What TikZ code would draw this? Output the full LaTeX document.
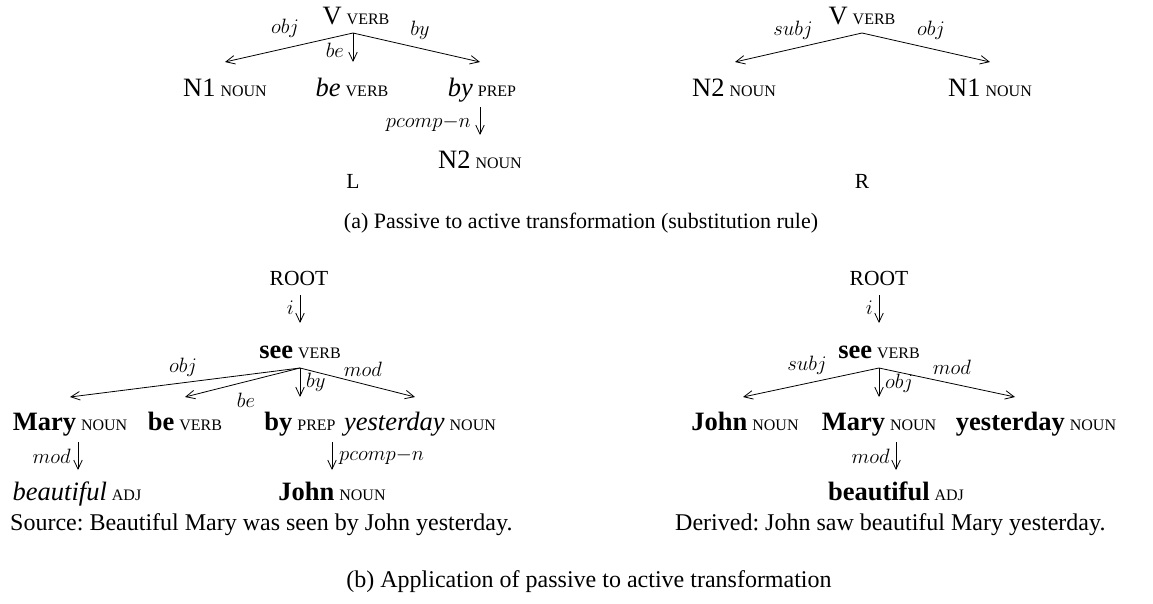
\documentclass[tikz,border=0pt]{standalone}
\usepackage{fontspec}
\setmainfont{Liberation Serif}
\usetikzlibrary{arrows.meta}
\frenchspacing
\newcommand\wfont{\fontsize{26.5}{30}\selectfont}
\newcommand\tfont{\fontsize{16}{18}\selectfont}
\newcommand\lfont{\fontsize{22.5}{24}\selectfont}
\newcommand\cfont{\fontsize{24}{28}\selectfont}
\newcommand\cafont{\fontsize{22}{26}\selectfont}
\newcommand\sfont{\fontsize{21.5}{24}\selectfont}
\newcommand\wt[2]{{\wfont #1}\hspace{5pt}{\tfont #2}}
\begin{document}
\begin{tikzpicture}[x=1pt,y=-1pt,
  word/.style={inner sep=0pt,anchor=base},
  lab/.style={inner sep=0pt,font=\lfont},
  dep/.style={line width=0.8pt,-{Straight Barb[length=9pt,width=8.5pt,line width=0.8pt]}},
  captxt/.style={inner sep=0pt,anchor=base,font=\cfont}]
\useasboundingbox (0,0) rectangle (1153,603);
% ---------- (a) left: L ----------
\node[word] (vA) at (356,24) {\wt{V}{VERB}};
\coordinate (jA) at (353,33);
\node[word] (n1A) at (225,96) {\wt{N1}{NOUN}};
\node[word] (beA) at (352,96) {\wt{\textit{be}}{VERB}};
\node[word] (byA) at (482,96) {\wt{\textit{by}}{PREP}};
\node[word] (n2A) at (480,168) {\wt{N2}{NOUN}};
\coordinate (n1At) at (225,62);
\coordinate (beAt) at (353,62);
\coordinate (byAt) at (480,62);
\coordinate (byAb) at (480,107);
\coordinate (n2At) at (480,135);
\draw[dep] (jA) -- (n1At);
\draw[dep] (jA) -- (beAt);
\draw[dep] (jA) -- (byAt);
\draw[dep] (byAb) -- (n2At);
\node[lab] (lobjA) at (285,28) {$obj$};
\node[lab] (lbyA) at (420,30) {$by$};
\node[lab,anchor=east] (lbeA) at (344,50) {$be$};
\node[lab,anchor=east] (lpcA) at (471,123) {$pcomp{-}n$};
\node[word,font=\sfont] (L) at (353,188) {L};
% ---------- (a) right: R ----------
\node[word] (vB) at (862,24) {\wt{V}{VERB}};
\coordinate (jB) at (862,33);
\node[word] (n2B) at (734,96) {\wt{N2}{NOUN}};
\node[word] (n1B) at (990,96) {\wt{N1}{NOUN}};
\coordinate (n2Bt) at (735,62);
\coordinate (n1Bt) at (990,62);
\draw[dep] (jB) -- (n2Bt);
\draw[dep] (jB) -- (n1Bt);
\node[lab] (lsubjB) at (793,30) {$subj$};
\node[lab] (lobjB) at (931,30) {$obj$};
\node[word,font=\sfont] (R) at (862,188) {R};
\node[captxt,font=\cafont] (capA) at (581,228) {(a) Passive to active transformation (substitution rule)};
% ---------- (b) left ----------
\node[word,font=\sfont] (root1) at (299,285) {ROOT};
\coordinate (r1b) at (300,295);
\coordinate (s1t) at (300,323);
\draw[dep] (r1b) -- (s1t);
\node[lab,anchor=east] (li1) at (294,308) {$i$};
\node[word] (see1) at (300,358) {\wt{\textbf{see}}{VERB}};
\coordinate (j1) at (300,368);
\node[word] (mary1) at (70,430) {\wt{\textbf{Mary}}{NOUN}};
\node[word] (be1) at (185,430) {\wt{\textbf{be}}{VERB}};
\node[word] (by1) at (300,430) {\wt{\textbf{by}}{PREP}};
\node[word] (yest1) at (420,430) {\wt{\textit{yesterday}}{NOUN}};
\coordinate (mary1t) at (70,397);
\coordinate (be1t) at (185,397);
\coordinate (by1t) at (300,397);
\coordinate (yest1t) at (415,397);
\draw[dep] (j1) -- (mary1t);
\draw[dep] (j1) -- (be1t);
\draw[dep] (j1) -- (by1t);
\draw[dep] (j1) -- (yest1t);
\node[lab] (lobj1) at (183,367) {$obj$};
\node[lab] (lbe1) at (246,400) {$be$};
\node[lab,anchor=west] (lby1) at (306,382) {$by$};
\node[lab] (lmod1) at (363,369) {$mod$};
\coordinate (mary1b) at (78,442);
\coordinate (beau1t) at (78,470);
\draw[dep] (mary1b) -- (beau1t);
\node[lab,anchor=east] (lmod1b) at (71,456) {$mod$};
\node[word] (beau1) at (77,500) {\wt{\textit{beautiful}}{ADJ}};
\coordinate (by1b) at (332,442);
\coordinate (john1t) at (332,470);
\draw[dep] (by1b) -- (john1t);
\node[lab,anchor=west] (lpc1) at (339,456) {$pcomp{-}n$};
\node[word] (john1) at (332,500) {\wt{\textbf{John}}{NOUN}};
\node[captxt,anchor=base west] (src) at (10,530) {Source: Beautiful Mary was seen by John yesterday.};
% ---------- (b) right ----------
\node[word,font=\sfont] (root2) at (879,285) {ROOT};
\coordinate (r2b) at (879,295);
\coordinate (s2t) at (879,323);
\draw[dep] (r2b) -- (s2t);
\node[lab,anchor=east] (li2) at (873,308) {$i$};
\node[word] (see2) at (879,358) {\wt{\textbf{see}}{VERB}};
\coordinate (j2) at (879,368);
\node[word] (john2) at (745,430) {\wt{\textbf{John}}{NOUN}};
\node[word] (mary2) at (879,430) {\wt{\textbf{Mary}}{NOUN}};
\node[word] (yest2) at (1036,430) {\wt{\textbf{yesterday}}{NOUN}};
\coordinate (john2t) at (743,397);
\coordinate (mary2t) at (879,397);
\coordinate (yest2t) at (1015,397);
\draw[dep] (j2) -- (john2t);
\draw[dep] (j2) -- (mary2t);
\draw[dep] (j2) -- (yest2t);
\node[lab] (lsubj2) at (807,365) {$subj$};
\node[lab,anchor=west] (lobj2) at (885,383) {$obj$};
\node[lab] (lmod2) at (952,367) {$mod$};
\coordinate (mary2b) at (896,442);
\coordinate (beau2t) at (896,470);
\draw[dep] (mary2b) -- (beau2t);
\node[lab,anchor=east] (lmod2b) at (890,456) {$mod$};
\node[word] (beau2) at (896,500) {\wt{\textbf{beautiful}}{ADJ}};
\node[captxt,anchor=base west] (der) at (675,530) {Derived: John saw beautiful Mary yesterday.};
\node[captxt] (capB) at (589,587) {(b) Application of passive to active transformation};
\end{tikzpicture}
\end{document}
